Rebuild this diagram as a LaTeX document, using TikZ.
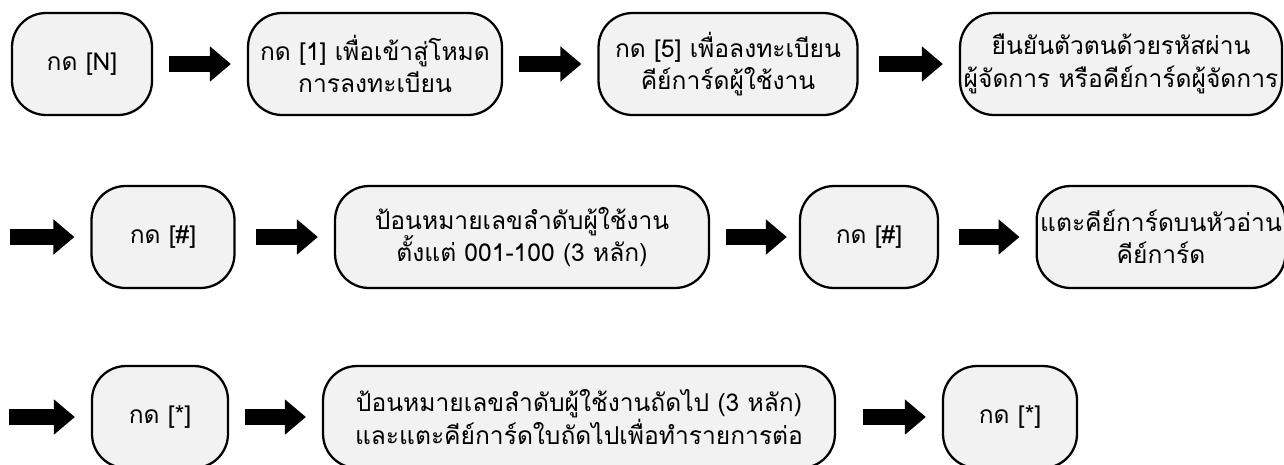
\documentclass[tikz,border=0pt]{standalone}
\usepackage{fontspec}
\setmainfont[Script=Thai]{Loma}
\usetikzlibrary{arrows.meta}
\definecolor{boxgray}{HTML}{F2F2F2}

\begin{document}
\begin{tikzpicture}[x=0.02cm, y=-0.02cm,
  stepbox/.style={draw, line width=1.3pt, fill=boxgray, rounded corners=0.68cm,
    minimum height=2.04cm, align=center, inner sep=2pt,
    font=\fontsize{14}{18.5}\selectfont},
  blockarrow/.style={line width=0.32cm, -{Triangle[length=0.42cm,width=0.68cm]},
    shorten <=0.32cm, shorten >=0.32cm}]

\useasboundingbox (0,0) rectangle (1284,464);

\node[stepbox, minimum width=2.8cm] (n1) at (82,64) {กด [N]};
\node[stepbox, minimum width=5.08cm] (n2) at (375,64) {กด [1] เพื่อเข้าสู่โหมด\\การลงทะเบียน};
\node[stepbox, minimum width=5.18cm] (n3) at (728,64) {กด [5] เพื่อลงทะเบียน\\คีย์การ์ดผู้ใช้งาน};
\node[stepbox, minimum width=6.44cm] (n4) at (1121,64) {ยืนยันตัวตนด้วยรหัสผ่าน\\ผู้จัดการ หรือคีย์การ์ดผู้จัดการ};

\coordinate (s2) at (10,237);
\node[stepbox, minimum width=2.86cm] (m1) at (163,237) {กด [\#]};
\node[stepbox, minimum width=7.48cm] (m2) at (522,237) {ป้อนหมายเลขลำดับผู้ใช้งาน\\ตั้งแต่ 001-100 (3 หลัก)};
\node[stepbox, minimum width=2.76cm] (m3) at (869,237) {กด [\#]};
\node[stepbox, minimum width=4.84cm] (m4) at (1161,237) {แตะคีย์การ์ดบนหัวอ่าน\\คีย์การ์ด};

\coordinate (s3) at (9,417);
\node[stepbox, minimum width=2.72cm] (k1) at (160,417) {กด [*]};
\node[stepbox, minimum width=10.24cm] (k2) at (579,417) {ป้อนหมายเลขลำดับผู้ใช้งานถัดไป (3 หลัก)\\และแตะคีย์การ์ดใบถัดไปเพื่อทำรายการต่อ};
\node[stepbox, minimum width=2.68cm] (k3) at (1010,417) {กด [*]};

\draw[blockarrow] (n1) -- (n2);
\draw[blockarrow] (n2) -- (n3);
\draw[blockarrow, shorten <=0.4cm] (n3) -- (n4);

\draw[blockarrow, shorten <=0pt] (s2) -- (m1);
\draw[blockarrow, shorten <=0.4cm] (m1) -- (m2);
\draw[blockarrow, shorten >=0.24cm] (m2) -- (m3);
\draw[blockarrow, shorten <=0.4cm] (m3) -- (m4);

\draw[blockarrow, shorten <=0pt] (s3) -- (k1);
\draw[blockarrow] (k1) -- (k2);
\draw[blockarrow, shorten <=0.54cm] (k2) -- (k3);
\end{tikzpicture}
\end{document}
